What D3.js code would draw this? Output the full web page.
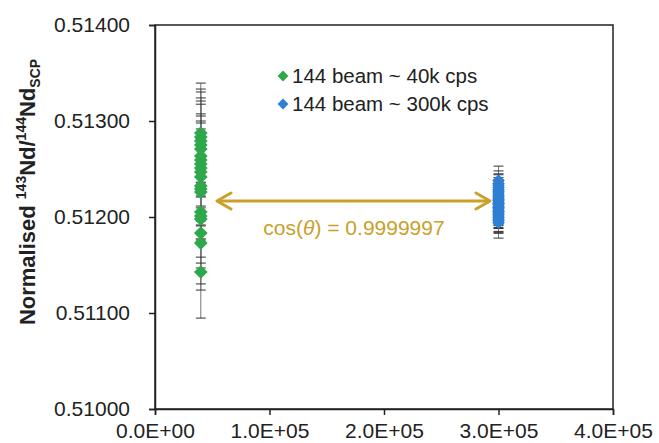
<!DOCTYPE html>
<html>
<head>
<meta charset="utf-8">
<script src="https://cdn.jsdelivr.net/npm/d3@7"></script>
<style>
  body { margin: 0; background: #fff; }
  text { font-family: "Liberation Sans", Arial, sans-serif; }
</style>
</head>
<body>
<script>
// valores
var seriesNames = ["144 beam ~ 40k cps", "144 beam ~ 300k cps"];
var beamX = [40000, 300000];

var greenValues = [0.512875, 0.512833, 0.512792, 0.512750, 0.512708, 0.512635, 0.512594,
                   0.512552, 0.512510, 0.512469, 0.512417, 0.512323, 0.512292, 0.512260,
                   0.512052, 0.512010, 0.511979, 0.511833, 0.511729, 0.511427];
var greenErrors = [0.00052, 0.00050, 0.00051, 0.00049, 0.00050, 0.00054, 0.00048,
                   0.00050, 0.00049, 0.00051, 0.00050, 0.00049, 0.00052, 0.00050,
                   0.00047, 0.00049, 0.00051, 0.00053, 0.00049, 0.00048];

var blueValues = [0.51238, 0.51235, 0.51233, 0.51231, 0.51229, 0.51227, 0.51226, 0.51224,
                  0.51222, 0.51221, 0.51219, 0.51218, 0.51217, 0.51215, 0.51214, 0.51213,
                  0.51211, 0.51210, 0.51209, 0.51207, 0.51206, 0.51205, 0.51203, 0.51202,
                  0.51200, 0.51199, 0.51197, 0.51196, 0.51194];
var blueErrors = [0.00015, 0.00013, 0.00011, 0.00014, 0.00012, 0.00010, 0.00013, 0.00011,
                  0.00012, 0.00014, 0.00010, 0.00012, 0.00011, 0.00013, 0.00010, 0.00012,
                  0.00011, 0.00013, 0.00012, 0.00010, 0.00014, 0.00011, 0.00012, 0.00013,
                  0.00015, 0.00011, 0.00014, 0.00012, 0.00016];

var yTicks = [0.510, 0.511, 0.512, 0.513, 0.514];
var xTicks = [0, 100000, 200000, 300000, 400000];
var cosLabel = "0.9999997";

var vis = {
    width: 659,
    height: 443,
    left: 155,
    right: 613,
    top: 25,
    bottom: 409,
    colores: ["#2ea84a", "#2f7fd3"],
    oro: "#c9a02a"
};

var svg = d3.select("body")
            .append("svg")
            .attr("width", vis.width)
            .attr("height", vis.height);

var x = d3.scaleLinear().domain([0, 400000]).range([vis.left, vis.right]);
var y = d3.scaleLinear().domain([0.510, 0.514]).range([vis.bottom, vis.top]);

//marco del area de dibujo
svg.append("rect")
    .attr("x", vis.left)
    .attr("y", vis.top)
    .attr("width", vis.right - vis.left)
    .attr("height", vis.bottom - vis.top)
    .attr("fill", "none")
    .attr("stroke", "#222")
    .attr("stroke-width", 1.5);

//ejes
var ejeY = svg.append("g")
    .attr("transform", "translate(" + vis.left + ",0)")
    .call(d3.axisLeft(y).tickValues(yTicks).tickSize(6).tickPadding(19)
        .tickFormat(d3.format(".5f")));
var ejeX = svg.append("g")
    .attr("transform", "translate(0," + vis.bottom + ")")
    .call(d3.axisBottom(x).tickValues(xTicks).tickSize(6).tickPadding(8)
        .tickFormat(function(d) {
            return d.toExponential(1).toUpperCase().replace(/E([+-])(\d)$/, "E$10$2");
        }));
[ejeY, ejeX].forEach(function(g) {
    g.select(".domain").attr("stroke", "#222").attr("stroke-width", 1.5);
    g.selectAll(".tick line").attr("stroke", "#222").attr("stroke-width", 1.5);
    g.selectAll("text").attr("font-size", 21).attr("fill", "#222")
        .attr("font-family", "'Liberation Sans', Arial, sans-serif");
});

//etiqueta del eje y
var etiqueta = svg.append("text")
    .attr("transform", "translate(35,192) rotate(-90)")
    .attr("text-anchor", "middle")
    .attr("font-size", 22)
    .attr("font-weight", "bold")
    .attr("fill", "#222");
etiqueta.append("tspan").text("Normalised ");
etiqueta.append("tspan").attr("font-size", 14).attr("dy", -9).text("143");
etiqueta.append("tspan").attr("dy", 9).text("Nd/");
etiqueta.append("tspan").attr("font-size", 14).attr("dy", -9).text("144");
etiqueta.append("tspan").attr("dy", 9).text("Nd");
etiqueta.append("tspan").attr("font-size", 14).attr("dy", 5).text("SCP");

//barras de error y puntos
var series = [
    { valores: greenValues, errores: greenErrors, x: beamX[0], color: vis.colores[0], tam: 120 },
    { valores: blueValues, errores: blueErrors, x: beamX[1], color: vis.colores[1], tam: 100 }
];

var diamante = d3.symbol().type(d3.symbolDiamond2);

series.forEach(function(s) {
    var datos = s.valores.map(function(v, i) { return { v: v, e: s.errores[i] }; });
    var g = svg.append("g");
    var cx = x(s.x);

    g.selectAll("line.vert")
        .data(datos)
        .enter()
        .append("line")
        .attr("x1", cx).attr("x2", cx)
        .attr("y1", function(d) { return y(d.v + d.e); })
        .attr("y2", function(d) { return y(d.v - d.e); })
        .attr("stroke", "#777")
        .attr("stroke-width", 1);

    g.selectAll("line.capTop")
        .data(datos)
        .enter()
        .append("line")
        .attr("x1", cx - 5).attr("x2", cx + 5)
        .attr("y1", function(d) { return y(d.v + d.e); })
        .attr("y2", function(d) { return y(d.v + d.e); })
        .attr("stroke", "#333")
        .attr("stroke-width", 1);

    g.selectAll("line.capBot")
        .data(datos)
        .enter()
        .append("line")
        .attr("x1", cx - 5).attr("x2", cx + 5)
        .attr("y1", function(d) { return y(d.v - d.e); })
        .attr("y2", function(d) { return y(d.v - d.e); })
        .attr("stroke", "#333")
        .attr("stroke-width", 1);

    g.selectAll("path")
        .data(datos)
        .enter()
        .append("path")
        .attr("d", diamante.size(s.tam))
        .attr("transform", function(d) { return "translate(" + cx + "," + y(d.v) + ")"; })
        .attr("fill", s.color);
});

//leyenda
var leyenda = svg.selectAll("g.leyenda")
    .data(seriesNames)
    .enter()
    .append("g")
    .attr("transform", function(d, i) { return "translate(283," + (76 + i * 28) + ")"; });
leyenda.append("path")
    .attr("d", d3.symbol().type(d3.symbolDiamond2).size(75))
    .attr("fill", function(d, i) { return vis.colores[i]; });
leyenda.append("text")
    .attr("x", 9)
    .attr("y", 7)
    .attr("font-size", 20.5)
    .attr("fill", "#222")
    .text(function(d) { return d; });

//flecha doble
var yFlecha = 201;
var xa = 217, xb = 490;
svg.append("line")
    .attr("x1", xa + 1).attr("x2", xb - 1)
    .attr("y1", yFlecha).attr("y2", yFlecha)
    .attr("stroke", vis.oro)
    .attr("stroke-width", 3);
svg.append("path")
    .attr("d", "M" + (xa + 14) + "," + (yFlecha - 8) + "L" + xa + "," + yFlecha + "L" + (xa + 14) + "," + (yFlecha + 8) +
               "M" + (xb - 14) + "," + (yFlecha - 8) + "L" + xb + "," + yFlecha + "L" + (xb - 14) + "," + (yFlecha + 8))
    .attr("fill", "none")
    .attr("stroke", vis.oro)
    .attr("stroke-width", 3)
    .attr("stroke-linecap", "round")
    .attr("stroke-linejoin", "round");

var cosText = svg.append("text")
    .attr("x", 354)
    .attr("y", 235)
    .attr("text-anchor", "middle")
    .attr("font-size", 21)
    .attr("fill", vis.oro);
cosText.append("tspan").text("cos(");
cosText.append("tspan").attr("font-style", "italic").text("θ");
cosText.append("tspan").text(") = " + cosLabel);
</script>
</body>
</html>
